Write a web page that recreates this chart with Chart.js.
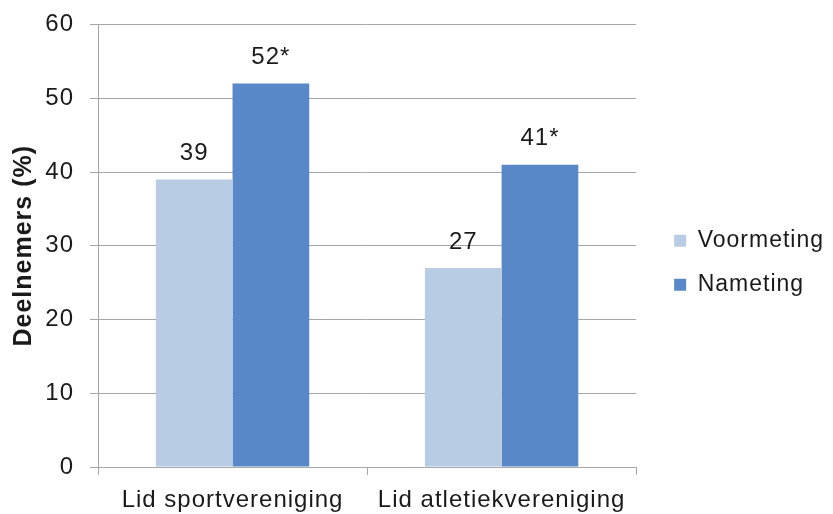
<!DOCTYPE html>
<html><head><meta charset="utf-8">
<script src="https://cdn.jsdelivr.net/npm/chart.js@4.4.1/dist/chart.umd.min.js"></script>
<style>html,body{margin:0;padding:0;background:#fff}#wrap{width:833px;height:514px;position:relative}</style>
</head><body><div id="wrap"><canvas id="c"></canvas></div>
<script>
const categories = ['Lid sportvereniging', 'Lid atletiekvereniging'];
const seriesNames = ['Voormeting', 'Nameting'];
const voormeting = [39, 27];
const nameting = [52, 41];
const voormetingMarks = ['', ''];
const nametingMarks = ['*', '*'];
const yTicks = [0, 10, 20, 30, 40, 50, 60];
const yTitle = 'Deelnemers (%)';

const FONT = '"Liberation Sans", Arial, sans-serif';
const TEXT = '#1a1a1a';
const GRID = '#a6a6a6';
const LIGHT = '#b8cce4';
const DARK = '#5888c8';

const spacing = {
  id: 'spacing',
  beforeUpdate(c) { c.ctx.letterSpacing = '1px'; },
  beforeLayout(c) { c.ctx.letterSpacing = '1px'; },
  beforeDraw(c) { c.ctx.letterSpacing = '1px'; }
};
const legendShift = {
  id: 'legendShift',
  afterLayout(c) {
    const l = c.legend; if (!l) return;
    l.left += 17; l.right += 17; l.top += 17; l.bottom += 17;
  }
};
const valueLabels = {
  id: 'valueLabels',
  afterDatasetsDraw(c) {
    const ctx = c.ctx;
    ctx.save();
    ctx.font = '24px ' + FONT;
    ctx.fillStyle = TEXT;
    ctx.textAlign = 'center';
    ctx.textBaseline = 'middle';
    c.data.datasets.forEach((ds, i) => {
      const meta = c.getDatasetMeta(i);
      meta.data.forEach((bar, j) => {
        ctx.fillText(String(ds.data[j]) + ds.marks[j], bar.x, bar.y - 26);
      });
    });
    ctx.restore();
  }
};

new Chart(document.getElementById('c'), {
  type: 'bar',
  data: {
    labels: categories,
    datasets: [
      { label: seriesNames[0], data: voormeting, marks: voormetingMarks, backgroundColor: LIGHT, borderWidth: 0 },
      { label: seriesNames[1], data: nameting, marks: nametingMarks, backgroundColor: DARK, borderWidth: 0 }
    ]
  },
  options: {
    responsive: true,
    maintainAspectRatio: false,
    animation: false,
    datasets: { bar: { categoryPercentage: 0.57, barPercentage: 1.0 } },
    layout: { padding: { top: 24.5, left: 0, right: 16, bottom: 0 } },
    plugins: {
      tooltip: { enabled: false },
      legend: {
        position: 'right',
        fullSize: false,
        align: 'center',
        labels: {
          boxWidth: 12, boxHeight: 12, padding: 21,
          font: { family: FONT, size: 23 }, color: TEXT
        }
      }
    },
    scales: {
      x: {
        border: { display: true, color: GRID, width: 1 },
        grid: { display: true, offset: true, drawOnChartArea: false, drawTicks: true, tickLength: 8, color: GRID },
        ticks: { font: { family: FONT, size: 24 }, color: TEXT, padding: 11, maxRotation: 0 },
        afterFit(s) { s.height = 47; }
      },
      y: {
        min: 0, max: 60,
        afterBuildTicks(s) { s.ticks = yTicks.map(v => ({ value: v })); },
        border: { display: true, color: GRID, width: 1 },
        grid: { color: GRID, lineWidth: 1, tickLength: 8, drawTicks: true },
        ticks: { font: { family: FONT, size: 24 }, color: TEXT, padding: 16 },
        title: { display: true, text: yTitle, font: { family: FONT, size: 25, weight: 'bold' }, color: TEXT, padding: { top: 9, bottom: 0 } },
        afterFit(s) { s.width = 98; s.paddingTop = 10; s.paddingBottom = 10; }
      }
    }
  },
  plugins: [spacing, legendShift, valueLabels]
});
</script>
</body></html>
